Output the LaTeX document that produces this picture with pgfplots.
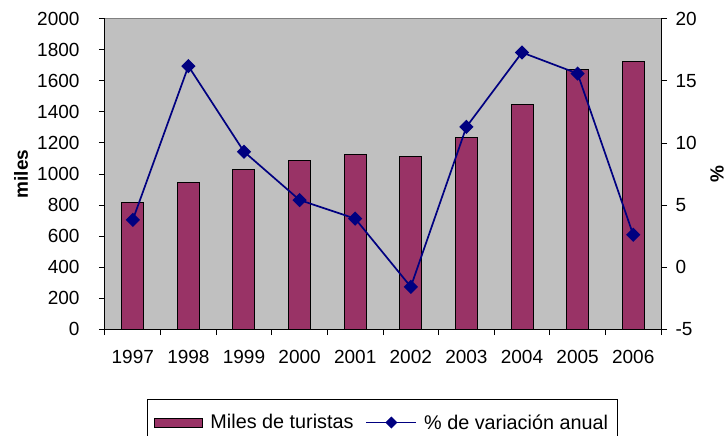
\documentclass[border=0pt]{standalone}
\usepackage{fontspec}
\setmainfont{Liberation Sans}
\usepackage{pgfplots}
\pgfplotsset{compat=1.18}
\definecolor{barc}{RGB}{153,51,102}
\definecolor{linec}{RGB}{0,0,128}
\definecolor{bg}{RGB}{192,192,192}
\pgfplotsset{
  lineleg/.style={legend image code/.code={\draw[##1, mark repeat=2, mark phase=2, mark size=3.4bp] plot coordinates {(0bp,0bp) (25bp,0bp) (50bp,0bp)};}},
  barleg/.style={legend image code/.code={\draw[fill=barc,draw=black,line width=1bp] (0bp,-4.5bp) rectangle (48bp,4.5bp);}},
}
\begin{document}
\begin{tikzpicture}[font=\fontsize{19bp}{22bp}\selectfont]
\useasboundingbox (-105bp,-107bp) rectangle (622bp,329bp);
\pgfplotsset{
  base/.style={
    width=556bp, height=310bp, scale only axis,
    xmin=0.5, xmax=10.5,
    tick align=outside,
    major tick length=6bp, minor tick length=6bp,
    every tick/.style={black, line width=1bp},
    axis line style={black, line width=1bp},
    /pgf/number format/assume math mode=true,
    /pgf/number format/1000 sep={},
  }
}
\begin{axis}[base,
  axis background/.style={fill=bg, draw=gray, line width=1bp},
  ymin=0, ymax=2000, ytick={0,200,...,2000},
  axis y line*=left, axis x line*=bottom,
  xtick={1,2,3,4,5,6,7,8,9,10},
  xticklabels={1997,1998,1999,2000,2001,2002,2003,2004,2005,2006},
  major x tick style={draw=none},
  minor xtick={0.5,1.5,2.5,3.5,4.5,5.5,6.5,7.5,8.5,9.5,10.5},
  xticklabel style={yshift=-12bp},
  yticklabel style={xshift=-16bp},
  ylabel={\bfseries miles},
  ylabel style={at={(axis description cs:-0.151,0.5)}, anchor=center},
]
\addplot[ybar, bar width=22bp, fill=barc, draw=black, line width=1bp]
  coordinates {(1,813) (2,944) (3,1028) (4,1088) (5,1125) (6,1114) (7,1234) (8,1447) (9,1675) (10,1723)};
\end{axis}
\begin{axis}[base,
  ymin=-5, ymax=20, ytick={-5,0,5,10,15,20},
  axis y line*=right, axis x line=none,
  yticklabel style={xshift=5bp},
  ylabel={\bfseries\%},
  ylabel style={at={(axis description cs:1.1007,0.5)}, anchor=center},
  legend columns=2,
  legend style={at={(axis description cs:0.0755,-0.2258)}, anchor=north west,
    draw=black, line width=1bp, fill=white, inner xsep=7bp, inner ysep=13bp,
    font=\fontsize{19.8bp}{22bp}\selectfont,
    /tikz/every odd column/.append style={column sep=5bp},
    /tikz/every even column/.append style={column sep=10bp}},
]
\addlegendimage{barleg}
\addlegendentry{Miles de turistas}
\addplot[color=linec, line width=1.7bp, mark=square*, mark size=4.2bp, mark options={rotate=45, fill=linec}, lineleg]
  coordinates {(1,3.8) (2,16.2) (3,9.3) (4,5.4) (5,3.9) (6,-1.6) (7,11.3) (8,17.3) (9,15.6) (10,2.6)};
\addlegendentry{\% de variación anual}
\end{axis}
\end{tikzpicture}
\end{document}
